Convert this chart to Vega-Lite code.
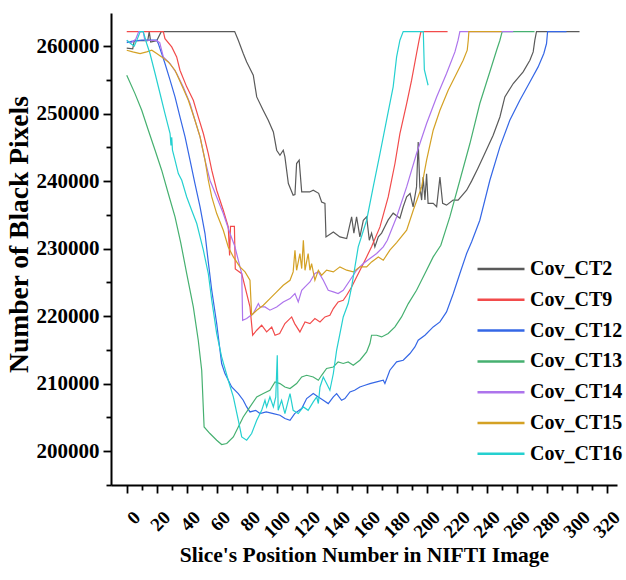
{
  "$schema": "https://vega.github.io/schema/vega-lite/v6.json",
  "width": 506,
  "height": 472,
  "autosize": {"type": "none"},
  "padding": {"left": 111, "top": 13, "right": 9, "bottom": 95},
  "background": "white",
  "datasets": {
    "pts": [
      {"c":"Cov_CT2","s":0,"v":259700},{"c":"Cov_CT2","s":4,"v":259600},{"c":"Cov_CT2","s":5,"v":260800},{"c":"Cov_CT2","s":14,"v":260800},{"c":"Cov_CT2","s":15,"v":262144},{"c":"Cov_CT2","s":16,"v":260600},{"c":"Cov_CT2","s":20,"v":260800},{"c":"Cov_CT2","s":23,"v":262144},{"c":"Cov_CT2","s":72,"v":262144},{"c":"Cov_CT2","s":74.4,"v":260870},{"c":"Cov_CT2","s":77.7,"v":258900},{"c":"Cov_CT2","s":80,"v":257650},{"c":"Cov_CT2","s":84.4,"v":255680},{"c":"Cov_CT2","s":86.7,"v":252470},{"c":"Cov_CT2","s":91,"v":250500},{"c":"Cov_CT2","s":94.4,"v":249020},{"c":"Cov_CT2","s":97.8,"v":247290},{"c":"Cov_CT2","s":100,"v":244580},{"c":"Cov_CT2","s":102.2,"v":243840},{"c":"Cov_CT2","s":104.4,"v":244580},{"c":"Cov_CT2","s":105.5,"v":243590},{"c":"Cov_CT2","s":107.8,"v":239650},{"c":"Cov_CT2","s":111,"v":237910},{"c":"Cov_CT2","s":112.2,"v":238000},{"c":"Cov_CT2","s":113.3,"v":242610},{"c":"Cov_CT2","s":115,"v":243100},{"c":"Cov_CT2","s":116.7,"v":238400},{"c":"Cov_CT2","s":122,"v":238400},{"c":"Cov_CT2","s":124.4,"v":238650},{"c":"Cov_CT2","s":128,"v":238200},{"c":"Cov_CT2","s":130,"v":236920},{"c":"Cov_CT2","s":132.2,"v":236700},{"c":"Cov_CT2","s":132.9,"v":231740},{"c":"Cov_CT2","s":137.8,"v":232480},{"c":"Cov_CT2","s":142.2,"v":231740},{"c":"Cov_CT2","s":146.7,"v":231500},{"c":"Cov_CT2","s":150,"v":234700},{"c":"Cov_CT2","s":151.5,"v":232300},{"c":"Cov_CT2","s":153.3,"v":234700},{"c":"Cov_CT2","s":155.5,"v":231740},{"c":"Cov_CT2","s":157.8,"v":234200},{"c":"Cov_CT2","s":160,"v":234700},{"c":"Cov_CT2","s":161.8,"v":231250},{"c":"Cov_CT2","s":163.3,"v":232300},{"c":"Cov_CT2","s":165.5,"v":230270},{"c":"Cov_CT2","s":167.8,"v":231740},{"c":"Cov_CT2","s":170,"v":232300},{"c":"Cov_CT2","s":172.2,"v":233280},{"c":"Cov_CT2","s":174.4,"v":234260},{"c":"Cov_CT2","s":177.7,"v":235250},{"c":"Cov_CT2","s":182.2,"v":234500},{"c":"Cov_CT2","s":184.4,"v":236200},{"c":"Cov_CT2","s":186.7,"v":237680},{"c":"Cov_CT2","s":189,"v":238170},{"c":"Cov_CT2","s":191,"v":236200},{"c":"Cov_CT2","s":193.3,"v":239150},{"c":"Cov_CT2","s":194.4,"v":245800},{"c":"Cov_CT2","s":195.5,"v":239150},{"c":"Cov_CT2","s":196.7,"v":237200},{"c":"Cov_CT2","s":197.7,"v":240600},{"c":"Cov_CT2","s":198.9,"v":237200},{"c":"Cov_CT2","s":200,"v":241100},{"c":"Cov_CT2","s":201,"v":236700},{"c":"Cov_CT2","s":204.4,"v":236700},{"c":"Cov_CT2","s":206.7,"v":236200},{"c":"Cov_CT2","s":208.9,"v":240600},{"c":"Cov_CT2","s":210.7,"v":236700},{"c":"Cov_CT2","s":213.3,"v":236450},{"c":"Cov_CT2","s":217.7,"v":237200},{"c":"Cov_CT2","s":221,"v":237200},{"c":"Cov_CT2","s":226.7,"v":238650},{"c":"Cov_CT2","s":230,"v":240000},{"c":"Cov_CT2","s":234,"v":241800},{"c":"Cov_CT2","s":237.8,"v":243600},{"c":"Cov_CT2","s":244.4,"v":246800},{"c":"Cov_CT2","s":248.9,"v":249500},{"c":"Cov_CT2","s":252.2,"v":252470},{"c":"Cov_CT2","s":257.8,"v":254460},{"c":"Cov_CT2","s":264.4,"v":256180},{"c":"Cov_CT2","s":268.9,"v":257910},{"c":"Cov_CT2","s":271.1,"v":259140},{"c":"Cov_CT2","s":272.2,"v":260870},{"c":"Cov_CT2","s":273.3,"v":262144},{"c":"Cov_CT2","s":302,"v":262144},

      {"c":"Cov_CT9","s":0,"v":262144},{"c":"Cov_CT9","s":24.4,"v":262144},{"c":"Cov_CT9","s":25.5,"v":261100},{"c":"Cov_CT9","s":30,"v":259880},{"c":"Cov_CT9","s":33.3,"v":258400},{"c":"Cov_CT9","s":35.5,"v":256430},{"c":"Cov_CT9","s":40,"v":253960},{"c":"Cov_CT9","s":44.4,"v":251980},{"c":"Cov_CT9","s":47.7,"v":249510},{"c":"Cov_CT9","s":51.1,"v":247050},{"c":"Cov_CT9","s":54.4,"v":244090},{"c":"Cov_CT9","s":56.7,"v":241620},{"c":"Cov_CT9","s":60,"v":238650},{"c":"Cov_CT9","s":64.4,"v":235690},{"c":"Cov_CT9","s":67.7,"v":233220},{"c":"Cov_CT9","s":68.6,"v":229000},{"c":"Cov_CT9","s":69.2,"v":233300},{"c":"Cov_CT9","s":71.8,"v":233300},{"c":"Cov_CT9","s":72.4,"v":227000},{"c":"Cov_CT9","s":76.7,"v":226300},{"c":"Cov_CT9","s":82.2,"v":221370},{"c":"Cov_CT9","s":84,"v":217180},{"c":"Cov_CT9","s":86.7,"v":217920},{"c":"Cov_CT9","s":90,"v":218660},{"c":"Cov_CT9","s":93.3,"v":217670},{"c":"Cov_CT9","s":96.7,"v":218400},{"c":"Cov_CT9","s":98.9,"v":217180},{"c":"Cov_CT9","s":102,"v":217430},{"c":"Cov_CT9","s":105.5,"v":218910},{"c":"Cov_CT9","s":110,"v":219890},{"c":"Cov_CT9","s":112,"v":218900},{"c":"Cov_CT9","s":115.5,"v":217670},{"c":"Cov_CT9","s":118.9,"v":219150},{"c":"Cov_CT9","s":122.2,"v":218900},{"c":"Cov_CT9","s":125.5,"v":219650},{"c":"Cov_CT9","s":128.9,"v":219150},{"c":"Cov_CT9","s":132.2,"v":219890},{"c":"Cov_CT9","s":135.5,"v":220140},{"c":"Cov_CT9","s":137.8,"v":221130},{"c":"Cov_CT9","s":141,"v":222110},{"c":"Cov_CT9","s":144.4,"v":222360},{"c":"Cov_CT9","s":146.7,"v":223100},{"c":"Cov_CT9","s":150,"v":224330},{"c":"Cov_CT9","s":153.3,"v":225810},{"c":"Cov_CT9","s":156.7,"v":227290},{"c":"Cov_CT9","s":160,"v":228780},{"c":"Cov_CT9","s":163.3,"v":230300},{"c":"Cov_CT9","s":168.9,"v":233220},{"c":"Cov_CT9","s":174.4,"v":237660},{"c":"Cov_CT9","s":178.9,"v":242610},{"c":"Cov_CT9","s":182.2,"v":247050},{"c":"Cov_CT9","s":186.7,"v":251490},{"c":"Cov_CT9","s":190,"v":254950},{"c":"Cov_CT9","s":193.3,"v":258900},{"c":"Cov_CT9","s":195,"v":260870},{"c":"Cov_CT9","s":196.2,"v":262144},{"c":"Cov_CT9","s":214,"v":262144},

      {"c":"Cov_CT12","s":0,"v":260500},{"c":"Cov_CT12","s":3,"v":260700},{"c":"Cov_CT12","s":10,"v":260870},{"c":"Cov_CT12","s":20,"v":260870},{"c":"Cov_CT12","s":21,"v":260400},{"c":"Cov_CT12","s":23.3,"v":258900},{"c":"Cov_CT12","s":25.5,"v":257420},{"c":"Cov_CT12","s":28.9,"v":254950},{"c":"Cov_CT12","s":32.2,"v":252470},{"c":"Cov_CT12","s":35.5,"v":249510},{"c":"Cov_CT12","s":38.9,"v":246550},{"c":"Cov_CT12","s":42.2,"v":243100},{"c":"Cov_CT12","s":45.5,"v":239650},{"c":"Cov_CT12","s":48.9,"v":236180},{"c":"Cov_CT12","s":52.2,"v":232240},{"c":"Cov_CT12","s":54.4,"v":228000},{"c":"Cov_CT12","s":56.7,"v":223840},{"c":"Cov_CT12","s":60,"v":218910},{"c":"Cov_CT12","s":62.2,"v":214960},{"c":"Cov_CT12","s":63.3,"v":212990},{"c":"Cov_CT12","s":65.5,"v":211500},{"c":"Cov_CT12","s":70,"v":209520},{"c":"Cov_CT12","s":74.4,"v":208540},{"c":"Cov_CT12","s":77.7,"v":207550},{"c":"Cov_CT12","s":80,"v":206560},{"c":"Cov_CT12","s":82.2,"v":205820},{"c":"Cov_CT12","s":86,"v":206060},{"c":"Cov_CT12","s":88.9,"v":205580},{"c":"Cov_CT12","s":93,"v":205820},{"c":"Cov_CT12","s":97.8,"v":205580},{"c":"Cov_CT12","s":102.2,"v":205330},{"c":"Cov_CT12","s":105.5,"v":204840},{"c":"Cov_CT12","s":108.9,"v":204590},{"c":"Cov_CT12","s":112,"v":205580},{"c":"Cov_CT12","s":116.7,"v":206320},{"c":"Cov_CT12","s":120,"v":207800},{"c":"Cov_CT12","s":124.4,"v":208540},{"c":"Cov_CT12","s":127.8,"v":208040},{"c":"Cov_CT12","s":131.1,"v":207550},{"c":"Cov_CT12","s":134.4,"v":207060},{"c":"Cov_CT12","s":137.8,"v":208040},{"c":"Cov_CT12","s":140,"v":208540},{"c":"Cov_CT12","s":143.3,"v":207550},{"c":"Cov_CT12","s":145.5,"v":207800},{"c":"Cov_CT12","s":148.9,"v":208780},{"c":"Cov_CT12","s":152,"v":209030},{"c":"Cov_CT12","s":155.5,"v":209520},{"c":"Cov_CT12","s":158.9,"v":209770},{"c":"Cov_CT12","s":162.2,"v":210020},{"c":"Cov_CT12","s":166.7,"v":210270},{"c":"Cov_CT12","s":171.1,"v":210510},{"c":"Cov_CT12","s":172.2,"v":210020},{"c":"Cov_CT12","s":175.5,"v":212000},{"c":"Cov_CT12","s":180,"v":213230},{"c":"Cov_CT12","s":184.4,"v":213480},{"c":"Cov_CT12","s":188.9,"v":214470},{"c":"Cov_CT12","s":192.2,"v":215450},{"c":"Cov_CT12","s":194.4,"v":216440},{"c":"Cov_CT12","s":198.9,"v":217180},{"c":"Cov_CT12","s":204.4,"v":218410},{"c":"Cov_CT12","s":208.9,"v":219150},{"c":"Cov_CT12","s":213.3,"v":220630},{"c":"Cov_CT12","s":217.8,"v":223360},{"c":"Cov_CT12","s":222.2,"v":226320},{"c":"Cov_CT12","s":226.7,"v":229280},{"c":"Cov_CT12","s":230,"v":231000},{"c":"Cov_CT12","s":235.5,"v":234210},{"c":"Cov_CT12","s":242.2,"v":240130},{"c":"Cov_CT12","s":248.9,"v":245070},{"c":"Cov_CT12","s":255.5,"v":249020},{"c":"Cov_CT12","s":262.2,"v":251980},{"c":"Cov_CT12","s":268.9,"v":254690},{"c":"Cov_CT12","s":274.4,"v":256920},{"c":"Cov_CT12","s":278.2,"v":258900},{"c":"Cov_CT12","s":280,"v":260380},{"c":"Cov_CT12","s":280.7,"v":262144},{"c":"Cov_CT12","s":293.3,"v":262144},

      {"c":"Cov_CT13","s":0,"v":255680},{"c":"Cov_CT13","s":5.5,"v":252960},{"c":"Cov_CT13","s":10,"v":250500},{"c":"Cov_CT13","s":14.4,"v":247540},{"c":"Cov_CT13","s":18.9,"v":244580},{"c":"Cov_CT13","s":23.3,"v":241620},{"c":"Cov_CT13","s":27.7,"v":238170},{"c":"Cov_CT13","s":32.2,"v":234700},{"c":"Cov_CT13","s":36,"v":230900},{"c":"Cov_CT13","s":40,"v":226320},{"c":"Cov_CT13","s":44.4,"v":221370},{"c":"Cov_CT13","s":47.7,"v":216440},{"c":"Cov_CT13","s":50,"v":212000},{"c":"Cov_CT13","s":51.6,"v":203600},{"c":"Cov_CT13","s":55.5,"v":202620},{"c":"Cov_CT13","s":60,"v":201630},{"c":"Cov_CT13","s":63.3,"v":201000},{"c":"Cov_CT13","s":66.7,"v":201140},{"c":"Cov_CT13","s":71.1,"v":202120},{"c":"Cov_CT13","s":74.4,"v":203600},{"c":"Cov_CT13","s":77.7,"v":205080},{"c":"Cov_CT13","s":82.2,"v":206560},{"c":"Cov_CT13","s":86.7,"v":208040},{"c":"Cov_CT13","s":91.1,"v":208540},{"c":"Cov_CT13","s":95.5,"v":209030},{"c":"Cov_CT13","s":98.9,"v":210260},{"c":"Cov_CT13","s":102.2,"v":210020},{"c":"Cov_CT13","s":105.5,"v":209520},{"c":"Cov_CT13","s":108.9,"v":209290},{"c":"Cov_CT13","s":113.3,"v":210020},{"c":"Cov_CT13","s":116.7,"v":211000},{"c":"Cov_CT13","s":120,"v":211250},{"c":"Cov_CT13","s":124.4,"v":211000},{"c":"Cov_CT13","s":127.8,"v":210510},{"c":"Cov_CT13","s":130,"v":211250},{"c":"Cov_CT13","s":133.3,"v":212250},{"c":"Cov_CT13","s":137.8,"v":212480},{"c":"Cov_CT13","s":141,"v":213230},{"c":"Cov_CT13","s":144.4,"v":213000},{"c":"Cov_CT13","s":147.7,"v":213230},{"c":"Cov_CT13","s":151.1,"v":212740},{"c":"Cov_CT13","s":155.5,"v":213480},{"c":"Cov_CT13","s":160,"v":214710},{"c":"Cov_CT13","s":162.2,"v":215950},{"c":"Cov_CT13","s":163.3,"v":217180},{"c":"Cov_CT13","s":166.7,"v":217180},{"c":"Cov_CT13","s":170,"v":216930},{"c":"Cov_CT13","s":174.4,"v":217430},{"c":"Cov_CT13","s":178.9,"v":218410},{"c":"Cov_CT13","s":183.3,"v":219890},{"c":"Cov_CT13","s":187.8,"v":221870},{"c":"Cov_CT13","s":193.3,"v":223840},{"c":"Cov_CT13","s":198.9,"v":226320},{"c":"Cov_CT13","s":204.4,"v":228780},{"c":"Cov_CT13","s":209.5,"v":230500},{"c":"Cov_CT13","s":215.5,"v":234700},{"c":"Cov_CT13","s":222.2,"v":240130},{"c":"Cov_CT13","s":228.9,"v":245570},{"c":"Cov_CT13","s":235.5,"v":251500},{"c":"Cov_CT13","s":242.2,"v":256200},{"c":"Cov_CT13","s":246.7,"v":259390},{"c":"Cov_CT13","s":248.9,"v":260870},{"c":"Cov_CT13","s":250.4,"v":262144},{"c":"Cov_CT13","s":272,"v":262144},

      {"c":"Cov_CT14","s":0,"v":260800},{"c":"Cov_CT14","s":3,"v":260500},{"c":"Cov_CT14","s":6,"v":261000},{"c":"Cov_CT14","s":8,"v":262144},{"c":"Cov_CT14","s":11,"v":262144},{"c":"Cov_CT14","s":12,"v":260900},{"c":"Cov_CT14","s":20,"v":260800},{"c":"Cov_CT14","s":22,"v":260500},{"c":"Cov_CT14","s":24.4,"v":258400},{"c":"Cov_CT14","s":28.9,"v":257420},{"c":"Cov_CT14","s":33.3,"v":255940},{"c":"Cov_CT14","s":37.7,"v":253960},{"c":"Cov_CT14","s":42.2,"v":251490},{"c":"Cov_CT14","s":45.5,"v":249020},{"c":"Cov_CT14","s":48.9,"v":246550},{"c":"Cov_CT14","s":52.2,"v":243100},{"c":"Cov_CT14","s":55.5,"v":240130},{"c":"Cov_CT14","s":60,"v":237660},{"c":"Cov_CT14","s":64.4,"v":235200},{"c":"Cov_CT14","s":68.9,"v":232240},{"c":"Cov_CT14","s":72.2,"v":230260},{"c":"Cov_CT14","s":74.4,"v":228290},{"c":"Cov_CT14","s":76.7,"v":226320},{"c":"Cov_CT14","s":77.3,"v":219400},{"c":"Cov_CT14","s":80,"v":219650},{"c":"Cov_CT14","s":84.4,"v":220400},{"c":"Cov_CT14","s":87.8,"v":221870},{"c":"Cov_CT14","s":88.9,"v":221370},{"c":"Cov_CT14","s":92.2,"v":221370},{"c":"Cov_CT14","s":95.5,"v":220890},{"c":"Cov_CT14","s":100,"v":221370},{"c":"Cov_CT14","s":104.4,"v":222110},{"c":"Cov_CT14","s":108.9,"v":222610},{"c":"Cov_CT14","s":112.2,"v":223360},{"c":"Cov_CT14","s":114.4,"v":222110},{"c":"Cov_CT14","s":116.7,"v":223840},{"c":"Cov_CT14","s":118.9,"v":224330},{"c":"Cov_CT14","s":122.2,"v":225070},{"c":"Cov_CT14","s":125.5,"v":226320},{"c":"Cov_CT14","s":127.8,"v":226560},{"c":"Cov_CT14","s":131.1,"v":225320},{"c":"Cov_CT14","s":134.4,"v":223840},{"c":"Cov_CT14","s":137.8,"v":223600},{"c":"Cov_CT14","s":141,"v":223360},{"c":"Cov_CT14","s":144.4,"v":223840},{"c":"Cov_CT14","s":148.9,"v":225320},{"c":"Cov_CT14","s":153.3,"v":226810},{"c":"Cov_CT14","s":157.8,"v":227800},{"c":"Cov_CT14","s":162.2,"v":228540},{"c":"Cov_CT14","s":166.7,"v":229280},{"c":"Cov_CT14","s":171.1,"v":230260},{"c":"Cov_CT14","s":173.8,"v":231250},{"c":"Cov_CT14","s":180,"v":234700},{"c":"Cov_CT14","s":186.7,"v":239150},{"c":"Cov_CT14","s":193.3,"v":244090},{"c":"Cov_CT14","s":200,"v":248530},{"c":"Cov_CT14","s":206.7,"v":252470},{"c":"Cov_CT14","s":213.3,"v":255940},{"c":"Cov_CT14","s":218.9,"v":259140},{"c":"Cov_CT14","s":221,"v":260870},{"c":"Cov_CT14","s":222.2,"v":262144},{"c":"Cov_CT14","s":257.8,"v":262144},

      {"c":"Cov_CT15","s":0,"v":259390},{"c":"Cov_CT15","s":4,"v":259140},{"c":"Cov_CT15","s":8.9,"v":258900},{"c":"Cov_CT15","s":13.3,"v":259140},{"c":"Cov_CT15","s":16.7,"v":259390},{"c":"Cov_CT15","s":20,"v":258900},{"c":"Cov_CT15","s":23.3,"v":258400},{"c":"Cov_CT15","s":27.7,"v":257650},{"c":"Cov_CT15","s":32.2,"v":256430},{"c":"Cov_CT15","s":36.7,"v":254200},{"c":"Cov_CT15","s":41.1,"v":251980},{"c":"Cov_CT15","s":45.5,"v":249020},{"c":"Cov_CT15","s":48.9,"v":246550},{"c":"Cov_CT15","s":52.2,"v":243100},{"c":"Cov_CT15","s":54.4,"v":240130},{"c":"Cov_CT15","s":56.7,"v":237660},{"c":"Cov_CT15","s":60,"v":235200},{"c":"Cov_CT15","s":64.4,"v":232730},{"c":"Cov_CT15","s":67.7,"v":230260},{"c":"Cov_CT15","s":71.1,"v":228780},{"c":"Cov_CT15","s":75.5,"v":227300},{"c":"Cov_CT15","s":78.9,"v":226560},{"c":"Cov_CT15","s":82.2,"v":225320},{"c":"Cov_CT15","s":83.3,"v":220140},{"c":"Cov_CT15","s":86.7,"v":220880},{"c":"Cov_CT15","s":91.1,"v":221620},{"c":"Cov_CT15","s":95.5,"v":222610},{"c":"Cov_CT15","s":100,"v":223590},{"c":"Cov_CT15","s":104.4,"v":224580},{"c":"Cov_CT15","s":108.9,"v":225320},{"c":"Cov_CT15","s":111,"v":226560},{"c":"Cov_CT15","s":112.2,"v":229770},{"c":"Cov_CT15","s":113.3,"v":226800},{"c":"Cov_CT15","s":115.5,"v":229280},{"c":"Cov_CT15","s":116.7,"v":227050},{"c":"Cov_CT15","s":117.8,"v":231250},{"c":"Cov_CT15","s":118.9,"v":226800},{"c":"Cov_CT15","s":121,"v":229280},{"c":"Cov_CT15","s":122.2,"v":226800},{"c":"Cov_CT15","s":123.3,"v":227800},{"c":"Cov_CT15","s":125.5,"v":225320},{"c":"Cov_CT15","s":127.8,"v":226800},{"c":"Cov_CT15","s":130,"v":226060},{"c":"Cov_CT15","s":133.3,"v":226810},{"c":"Cov_CT15","s":137.8,"v":226560},{"c":"Cov_CT15","s":142.2,"v":227300},{"c":"Cov_CT15","s":146.7,"v":226810},{"c":"Cov_CT15","s":151.1,"v":226560},{"c":"Cov_CT15","s":155.5,"v":227300},{"c":"Cov_CT15","s":160,"v":227300},{"c":"Cov_CT15","s":163.3,"v":228040},{"c":"Cov_CT15","s":167.8,"v":228780},{"c":"Cov_CT15","s":171.1,"v":228290},{"c":"Cov_CT15","s":175.5,"v":229770},{"c":"Cov_CT15","s":180,"v":230900},{"c":"Cov_CT15","s":186.7,"v":232730},{"c":"Cov_CT15","s":191.1,"v":235690},{"c":"Cov_CT15","s":196.7,"v":239150},{"c":"Cov_CT15","s":200,"v":243100},{"c":"Cov_CT15","s":204.4,"v":247540},{"c":"Cov_CT15","s":208.9,"v":250500},{"c":"Cov_CT15","s":214.4,"v":253460},{"c":"Cov_CT15","s":220,"v":255940},{"c":"Cov_CT15","s":224.4,"v":257910},{"c":"Cov_CT15","s":227.1,"v":259390},{"c":"Cov_CT15","s":227.8,"v":260870},{"c":"Cov_CT15","s":228.2,"v":262144},{"c":"Cov_CT15","s":250,"v":262144},

      {"c":"Cov_CT16","s":0,"v":260870},{"c":"Cov_CT16","s":3,"v":260300},{"c":"Cov_CT16","s":5,"v":260000},{"c":"Cov_CT16","s":7,"v":261000},{"c":"Cov_CT16","s":9,"v":262144},{"c":"Cov_CT16","s":11,"v":262144},{"c":"Cov_CT16","s":13.3,"v":260380},{"c":"Cov_CT16","s":15.5,"v":258900},{"c":"Cov_CT16","s":18.9,"v":255940},{"c":"Cov_CT16","s":22.2,"v":252980},{"c":"Cov_CT16","s":25.5,"v":250010},{"c":"Cov_CT16","s":28.9,"v":247050},{"c":"Cov_CT16","s":29.5,"v":245300},{"c":"Cov_CT16","s":30,"v":246500},{"c":"Cov_CT16","s":30.5,"v":244580},{"c":"Cov_CT16","s":32.2,"v":243100},{"c":"Cov_CT16","s":34.4,"v":241120},{"c":"Cov_CT16","s":36.7,"v":240130},{"c":"Cov_CT16","s":40,"v":237660},{"c":"Cov_CT16","s":43.3,"v":235690},{"c":"Cov_CT16","s":46.7,"v":233720},{"c":"Cov_CT16","s":48.9,"v":231740},{"c":"Cov_CT16","s":51.1,"v":229770},{"c":"Cov_CT16","s":54.4,"v":226320},{"c":"Cov_CT16","s":56.7,"v":222360},{"c":"Cov_CT16","s":60,"v":217430},{"c":"Cov_CT16","s":63.3,"v":213970},{"c":"Cov_CT16","s":67.7,"v":210510},{"c":"Cov_CT16","s":71.1,"v":208040},{"c":"Cov_CT16","s":74.4,"v":204590},{"c":"Cov_CT16","s":76.7,"v":202120},{"c":"Cov_CT16","s":80,"v":201630},{"c":"Cov_CT16","s":83.3,"v":202620},{"c":"Cov_CT16","s":86.7,"v":204590},{"c":"Cov_CT16","s":90,"v":206060},{"c":"Cov_CT16","s":92.2,"v":207550},{"c":"Cov_CT16","s":93.3,"v":206560},{"c":"Cov_CT16","s":95.5,"v":208040},{"c":"Cov_CT16","s":97.8,"v":206560},{"c":"Cov_CT16","s":99.4,"v":208040},{"c":"Cov_CT16","s":100.4,"v":214220},{"c":"Cov_CT16","s":101,"v":206060},{"c":"Cov_CT16","s":103.3,"v":207550},{"c":"Cov_CT16","s":105.5,"v":205580},{"c":"Cov_CT16","s":108.9,"v":208540},{"c":"Cov_CT16","s":111,"v":206060},{"c":"Cov_CT16","s":114.4,"v":205580},{"c":"Cov_CT16","s":117.8,"v":206560},{"c":"Cov_CT16","s":121,"v":206060},{"c":"Cov_CT16","s":124.4,"v":207300},{"c":"Cov_CT16","s":126.7,"v":208040},{"c":"Cov_CT16","s":127.8,"v":207060},{"c":"Cov_CT16","s":128.9,"v":209520},{"c":"Cov_CT16","s":131.1,"v":211000},{"c":"Cov_CT16","s":133.3,"v":210020},{"c":"Cov_CT16","s":135.5,"v":209030},{"c":"Cov_CT16","s":137.8,"v":211510},{"c":"Cov_CT16","s":140,"v":214960},{"c":"Cov_CT16","s":142.2,"v":217430},{"c":"Cov_CT16","s":144.4,"v":219890},{"c":"Cov_CT16","s":147.7,"v":221870},{"c":"Cov_CT16","s":150,"v":224330},{"c":"Cov_CT16","s":152.2,"v":227300},{"c":"Cov_CT16","s":154.4,"v":230260},{"c":"Cov_CT16","s":160,"v":234210},{"c":"Cov_CT16","s":164.4,"v":239150},{"c":"Cov_CT16","s":168.9,"v":244090},{"c":"Cov_CT16","s":173.3,"v":249020},{"c":"Cov_CT16","s":177.7,"v":253960},{"c":"Cov_CT16","s":180,"v":258400},{"c":"Cov_CT16","s":182.2,"v":260870},{"c":"Cov_CT16","s":184.4,"v":262144},{"c":"Cov_CT16","s":197.8,"v":262144},{"c":"Cov_CT16","s":198.5,"v":256500},{"c":"Cov_CT16","s":201,"v":254200}
    ]
  },
  "data": {"name": "pts"},
  "layer": [
    {
      "mark": {"type": "line", "strokeWidth": 1.2},
      "encoding": {
        "x": {
          "field": "s", "type": "quantitative",
          "scale": {"domain": [-10.5, 327], "nice": false, "zero": false},
          "axis": {
            "values": [0,20,40,60,80,100,120,140,160,180,200,220,240,260,280,300,320],
            "labelAngle": -45, "labelAlign": "right", "labelBaseline": "middle",
            "labelOffset": 10, "labelPadding": 21, "labelFontSize": 19,
            "labelOverlap": false, "labelBound": false, "labelFlush": false,
            "tickSize": 8, "orient": "bottom",
            "title": "Slice's Position Number in NIFTI Image",
            "titleFontSize": 21.5, "titleX": 253, "titleY": 70,
            "titleAlign": "center", "titleBaseline": "middle"
          }
        },
        "y": {
          "field": "v", "type": "quantitative",
          "scale": {"domain": [195000, 264900], "nice": false, "zero": false},
          "axis": {
            "values": [200000,210000,220000,230000,240000,250000,260000],
            "format": "d", "labelFontSize": 21, "labelPadding": 4,
            "tickSize": 8, "orient": "left", "labelOverlap": false,
            "title": "Number of Black Pixels",
            "titleFontSize": 27.5, "titleX": -92, "titleY": 221,
            "titleAngle": -90, "titleAlign": "center", "titleBaseline": "middle"
          }
        },
        "color": {
          "field": "c", "type": "nominal",
          "scale": {
            "domain": ["Cov_CT2","Cov_CT9","Cov_CT12","Cov_CT13","Cov_CT14","Cov_CT15","Cov_CT16"],
            "range": ["#5a5a5a","#f24b4b","#3567e6","#46b070","#ad74ec","#d4a124","#25d0d0"]
          },
          "legend": {
            "title": null, "orient": "none", "legendX": 378.5, "legendY": 244.5,
            "symbolType": "M-2.35,0H2.35", "symbolSize": 400, "symbolStrokeWidth": 2.5,
            "labelFontSize": 20, "labelOffset": 17.5, "rowPadding": 8.8, "padding": 0,
            "labelLimit": 200
          }
        }
      }
    },
    {
      "mark": {"type": "point", "opacity": 0},
      "encoding": {
        "x": {
          "field": "s", "type": "quantitative",
          "scale": {"domain": [-10.5, 327], "nice": false, "zero": false},
          "axis": {
            "values": [10,30,50,70,90,110,130,150,170,190,210,230,250,270,290,310],
            "labels": false, "domain": false, "title": null, "tickSize": 5, "orient": "bottom"
          }
        },
        "y": {
          "field": "v", "type": "quantitative",
          "scale": {"domain": [195000, 264900], "nice": false, "zero": false},
          "axis": {
            "values": [195000,205000,215000,225000,235000,245000,255000],
            "labels": false, "domain": false, "title": null, "tickSize": 5, "orient": "left"
          }
        }
      }
    }
  ],
  "resolve": {"axis": {"x": "independent", "y": "independent"}},
  "config": {
    "view": {"stroke": null},
    "axis": {
      "labelFont": "Liberation Serif", "titleFont": "Liberation Serif",
      "labelFontWeight": "bold", "titleFontWeight": "bold",
      "labelColor": "#000", "titleColor": "#000",
      "domainColor": "#000", "tickColor": "#000",
      "domainWidth": 2, "tickWidth": 1.8, "grid": false
    },
    "legend": {
      "labelFont": "Liberation Serif", "labelFontWeight": "bold", "labelColor": "#000"
    }
  }
}
